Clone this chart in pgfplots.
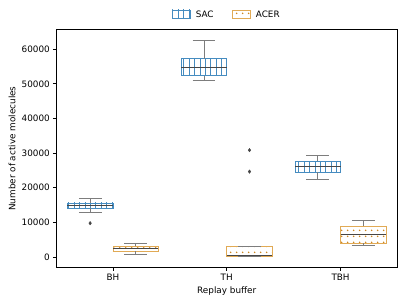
\documentclass[border=0pt]{standalone}
\usepackage{fontspec}
\setmainfont{DejaVu Sans}
\usepackage{pgfplots}
\pgfplotsset{compat=1.18}
\usetikzlibrary{patterns}
\definecolor{sac}{RGB}{70,140,192}
\definecolor{acer}{RGB}{225,170,85}
\definecolor{acerdot}{RGB}{205,135,35}
\definecolor{whisk}{RGB}{125,125,125}
\definecolor{med}{RGB}{70,70,70}
\pgfdeclarepatternformonly{sacvlines}{\pgfqpoint{-1pt}{-1pt}}{\pgfqpoint{7.2pt}{7.2pt}}{\pgfqpoint{6.2pt}{6.2pt}}{%
  \pgfsetlinewidth{0.8pt}%
  \pgfpathmoveto{\pgfqpoint{3.1pt}{-1pt}}\pgfpathlineto{\pgfqpoint{3.1pt}{7.2pt}}\pgfusepath{stroke}}
\pgfdeclarepatternformonly{acerdots}{\pgfqpoint{0pt}{0pt}}{\pgfqpoint{6.3pt}{6.3pt}}{\pgfqpoint{6.3pt}{6.3pt}}{%
  \pgfpathcircle{\pgfqpoint{3.15pt}{3.15pt}}{1.05pt}\pgfusepath{fill}}
\tikzset{
  sacpat/.style={draw=sac, line width=0.9pt, line cap=rect, pattern=sacvlines, pattern color=sac},
  acerpat/.style={draw=acer, line width=0.9pt, line cap=rect, pattern=acerdots, pattern color=acerdot},
  whiskst/.style={draw=whisk, line width=0.9pt},
  medst/.style={draw=med, line width=0.9pt},
}
\begin{document}
\begin{tikzpicture}
\useasboundingbox (-63.4pt,-42.6pt) rectangle (397.4pt,303pt);
\begin{axis}[
  scale only axis,
  width=386.6pt, height=269.6pt,
  xmin=-0.5, xmax=2.5,
  ymin=-3100, ymax=65700,
  xtick={0,1,2}, xticklabels={BH,TH,TBH},
  ytick={0,10000,20000,30000,40000,50000,60000},
  scaled y ticks=false,
  /pgf/number format/assume math mode=true,
  yticklabel style={/pgf/number format/1000 sep={}},
  xtick pos=bottom, ytick pos=left,
  tick align=outside,
  major tick length=3.5pt,
  tick style={black, line width=0.8pt},
  axis line style={line width=0.8pt},
  unbounded coords=jump,
  xlabel={Replay buffer},
  ylabel={Number of active molecules},
  legend columns=2,
  legend style={at={(0.5,1.06)}, anchor=center, draw=none, fill=none,
    /tikz/every odd column/.append style={column sep=4pt},
    /tikz/every even column/.append style={column sep=19pt}},
  legend cell align=left,
]
\addlegendimage{legend image code/.code={\draw[sacpat] (0pt,-3.5pt) rectangle (20pt,6pt);}}
\addlegendentry{SAC}
\addlegendimage{legend image code/.code={\draw[acerpat] (0pt,-3.5pt) rectangle (20pt,6pt);}}
\addlegendentry{ACER}

% ---------- SAC boxes (Q1..Q3) ----------
\addplot[sacpat, forget plot] coordinates {(-0.4,14070) (0,14070) (0,15600) (-0.4,15600) (-0.4,14070)};
\addplot[sacpat, forget plot] coordinates {(0.6,52400) (1,52400) (1,57300) (0.6,57300) (0.6,52400)};
\addplot[sacpat, forget plot] coordinates {(1.6,24480) (2,24480) (2,27660) (1.6,27660) (1.6,24480)};
% ---------- ACER boxes ----------
\addplot[acerpat, forget plot] coordinates {(0,1650) (0.4,1650) (0.4,3090) (0,3090) (0,1650)};
\addplot[acerpat, forget plot] coordinates {(1,200) (1.4,200) (1.4,3000) (1,3000) (1,200)};
\addplot[acerpat, forget plot] coordinates {(2,3960) (2.4,3960) (2.4,8870) (2,8870) (2,3960)};

% ---------- whiskers and caps ----------
\addplot[whiskst, forget plot] coordinates {
 (-0.2,15600) (-0.2,16960) (-0.2,nan) (-0.3,16960) (-0.1,16960) (-0.1,nan)
 (-0.2,14070) (-0.2,12900) (-0.2,nan) (-0.3,12900) (-0.1,12900) (-0.1,nan)
 (0.8,57300) (0.8,62630) (0.8,nan) (0.7,62630) (0.9,62630) (0.9,nan)
 (0.8,52400) (0.8,50870) (0.8,nan) (0.7,50870) (0.9,50870) (0.9,nan)
 (1.8,27660) (1.8,29390) (1.8,nan) (1.7,29390) (1.9,29390) (1.9,nan)
 (1.8,24480) (1.8,22340) (1.8,nan) (1.7,22340) (1.9,22340) (1.9,nan)
 (0.2,3090) (0.2,3960) (0.2,nan) (0.1,3960) (0.3,3960) (0.3,nan)
 (0.2,1650) (0.2,780) (0.2,nan) (0.1,780) (0.3,780) (0.3,nan)
 (1.2,3000) (1.2,3100) (1.2,nan) (1.1,3100) (1.3,3100) (1.3,nan)
 (1.2,200) (1.2,0) (1.2,nan) (1.1,0) (1.3,0) (1.3,nan)
 (2.2,8870) (2.2,10600) (2.2,nan) (2.1,10600) (2.3,10600) (2.3,nan)
 (2.2,3960) (2.2,3380) (2.2,nan) (2.1,3380) (2.3,3380)
};
% ---------- medians ----------
\addplot[medst, forget plot] coordinates {
 (-0.4,14900) (0,14900) (0,nan)
 (0.6,54830) (1,54830) (1,nan)
 (1.6,26100) (2,26100) (2,nan)
 (0,2370) (0.4,2370) (0.4,nan)
 (1,300) (1.4,300) (1.4,nan)
 (2,6560) (2.4,6560)
};
% ---------- outliers ----------
\addplot[only marks, forget plot, mark=diamond*, mark size=2pt, mark options={fill=med, draw=med}]
 coordinates {(-0.2,9740) (1.2,24650) (1.2,30840)};
\end{axis}
\end{tikzpicture}
\end{document}
